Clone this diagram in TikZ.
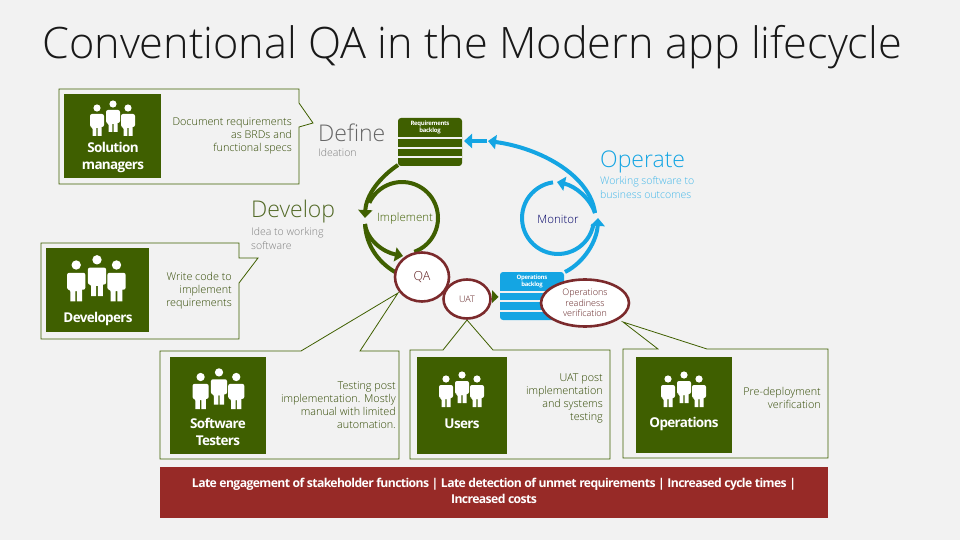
\documentclass[tikz,border=0pt]{standalone}
\usepackage{fontspec}
\setmainfont{Open Sans Light}[BoldFont=Open Sans Bold]
\newfontfamily\tightfont{Open Sans}[LetterSpace=-5]
\usetikzlibrary{arrows.meta,shapes.geometric}
\definecolor{pagegray}{HTML}{F2F2F2}
\definecolor{qagreen}{HTML}{3F5F00}
\definecolor{qablue}{HTML}{14A5E3}
\definecolor{qared}{HTML}{972A27}
\definecolor{qamaroon}{HTML}{7B2A2C}
\tikzset{
    panel/.style={draw=qagreen, line width=0.8pt, fill=pagegray, line join=miter},
    square/.style={fill=qagreen},
    rolename/.style={text=white, font=\tightfont\fontsize{13.5}{17}\selectfont\bfseries, align=center, inner sep=0pt},
    duty/.style={text=qagreen!75!black, font=\fontsize{10.8}{13}\selectfont, align=right, inner sep=0pt, anchor=east},
    phase/.style={font=\fontsize{23}{26}\selectfont, inner sep=0pt, anchor=west},
    phasenote/.style={font=\fontsize{10.5}{14.5}\selectfont, align=left, inner sep=0pt, anchor=north west},
    greenarc/.style={draw=qagreen, line width=4pt},
    bluearc/.style={draw=qablue, line width=4pt},
    greentip/.style={-{Triangle[width=14pt,length=8pt]}},
    check/.style={ellipse, draw=qamaroon, line width=2.6pt, fill=white, text=qamaroon!80!black, inner sep=0pt, align=center},
    backlogtext/.style={text=white, font=\tightfont\fontsize{6}{7}\selectfont\bfseries, align=center, inner sep=0pt},
    staff/.pic={
        \foreach \px/\py in {-16/0, 0/-4, 15/0} {
            \fill[white, shift={(\px,\py)}] (0,0) circle (3.6)
                (-7,6) [rounded corners=2] -- (-7,19) -- (-4.5,19) [sharp corners] -- (-4.5,28) -- (-0.6,28) -- (-0.6,20)
                -- (0.6,20) -- (0.6,28) -- (4.5,28) -- (4.5,19) [rounded corners=2] -- (7,19) -- (7,6) -- cycle;
        }
    },
}
\begin{document}
\begin{tikzpicture}[x=1pt, y=-1pt, >=stealth]
    \useasboundingbox[fill=pagegray] (0,0) rectangle (960,540);

    \node[anchor=base west, inner sep=0pt, text=black!90, font=\fontsize{43.3}{48}\selectfont] (title) at (42,59) {Conventional QA in the Modern app lifecycle};

    % where the callout tails point
    \coordinate (definetip) at (313,123);
    \coordinate (developtip) at (258,258);
    \coordinate (qatip) at (398,293);
    \coordinate (uattip) at (467,320);
    \coordinate (opstip) at (623,322);

    % callout panels
    \draw[panel] (59,89) -- (299,89) -- (299,103) -- (definetip) -- (299,127) -- (299,184) -- (59,184) -- cycle;
    \draw[panel] (41,243) -- (239,243) -- (239,258) -- (developtip) -- (239,283) -- (239,339) -- (41,339) -- cycle;
    \draw[panel] (160,351) -- (301,351) -- (qatip) -- (360,351) -- (399,351) -- (399,459) -- (160,459) -- cycle;
    \draw[panel] (410,350) -- (443,350) -- (uattip) -- (493,350) -- (610,350) -- (610,459) -- (410,459) -- cycle;
    \draw[panel] (623,349) -- (658,349) -- (opstip) -- (707,349) -- (828,349) -- (828,458) -- (623,458) -- cycle;

    % role squares
    \fill[square] (64,94) rectangle (161,178);
    \fill[square] (46,248) rectangle (149,332);
    \fill[square] (170,357) rectangle (266,454);
    \fill[square] (417,357) rectangle (507,454);
    \fill[square] (636,357) rectangle (732,453);

    \pic at (113,108) {staff};
    \pic[scale=1.3] at (97,265) {staff};
    \pic[scale=1.15] at (219,377) {staff};
    \pic at (462,379) {staff};
    \pic at (684,379) {staff};

    \node[rolename] (solution) at (113,157) {Solution\\managers};
    \node[rolename] (developers) at (98,319) {Developers};
    \node[rolename] (testers) at (218,432) {Software\\Testers};
    \node[rolename] (users) at (462,424) {Users};
    \node[rolename] (operations) at (684,424) {Operations};

    \node[duty] (dutydefine) at (292,136) {Document requirements\\as BRDs and\\functional specs};
    \node[duty] (dutydevelop) at (232,291) {Write code to\\implement\\requirements};
    \node[duty] (dutytest) at (396,405.5) {Testing post\\implementation. Mostly\\manual with limited\\automation.};
    \node[duty] (dutyuat) at (603,398.5) {UAT post\\implementation\\and systems\\testing};
    \node[duty] (dutyops) at (821,397.5) {Pre-deployment\\verification};

    % phase headings
    \node[phase, text=black!60] (define) at (318,133) {Define};
    \node[phasenote, text=black!50] (ideation) at (318,148) {Ideation};
    \node[phase, text=qagreen!70!gray] (develop) at (251,212) {Develop};
    \node[phasenote, text=black!50] (ideanote) at (251,227) {Idea to working\\software};
    \node[phase, text=qablue] (operate) at (600,162) {Operate};
    \node[phasenote, text=qablue!80!white] (opsnote) at (600,176) {Working software to\\business outcomes};

    % backlogs
    \node[fill=qagreen, rounded corners=3pt, minimum width=64pt, minimum height=48pt, inner sep=0pt] (reqbacklog) at (430,142) {};
    \node[fill=qablue, rounded corners=3pt, minimum width=64pt, minimum height=48pt, inner sep=0pt] (opsbacklog) at (532,296) {};
    \foreach \sy in {138,148,157} {
        \fill[pagegray] (398,\sy-0.7) rectangle (462,\sy+0.7);
    }
    \foreach \sy in {292,301,311} {
        \fill[pagegray] (500,\sy-0.7) rectangle (564,\sy+0.7);
    }
    \node[backlogtext] (reqlabel) at (430,127) {Requirements\\backlog};
    \node[backlogtext] (opslabel) at (532,281) {Operations\\backlog};

    \node[text=qagreen, inner sep=0pt, font=\fontsize{11.5}{13}\selectfont] (implement) at (405,218.5) {Implement};
    \node[text=blue!40!black, inner sep=0pt, font=\fontsize{11.5}{13}\selectfont] (monitor) at (558,219) {Monitor};

    % green loop
    \coordinate (greenmid) at (365,218);
    \coordinate (greenrestart) at (365,224);
    \draw[greenarc, greentip] (398,165) .. controls (380,177) and (366,195) .. (greenmid);
    \draw[greenarc] (greenrestart) .. controls (366,245) and (378,262) .. (395,272);
    \draw[greenarc, greentip] (greenrestart) .. controls (367,240) and (383,252) .. (403,256);
    \draw[greenarc] plot[domain=205:430, samples=40, variable=\t]
        ({402+36*cos(\t)}, {218+36*sin(\t)});

    % blue loop
    \coordinate (bluemid) at (598,218);
    \coordinate (bluerestart) at (595,213);
    \coordinate (bluetop) at (488,141);
    \draw[bluearc, greentip] (565,272) .. controls (585,262) and (597,240) .. (bluemid);
    \draw[bluearc, greentip] (bluerestart) .. controls (590,175) and (540,148) .. (bluetop);
    \draw[bluearc, greentip] (487,141) -- (464,141);
    \draw[bluearc, greentip] (bluerestart) .. controls (590,198) and (575,186) .. (557,182);
    \draw[bluearc] plot[domain=262:10, samples=40, variable=\t]
        ({558+36*cos(\t)}, {218+36*sin(\t)});

    % checks
    \fill[qagreen] (492,290) -- (498.5,297) -- (492,303) -- cycle;
    \node[check, minimum width=54pt, minimum height=49pt, font=\fontsize{12.5}{14}\selectfont] (qa) at (422,277) {QA};
    \node[check, minimum width=47pt, minimum height=39pt, font=\fontsize{9}{11}\selectfont] (uat) at (467,299) {UAT};
    \node[check, minimum width=88pt, minimum height=47pt, font=\fontsize{9}{10.5}\selectfont] (opscheck) at (585,303) {Operations\\readiness\\verification};

    % outcome bar
    \fill[qared] (160,467) rectangle (828,518);
    \node[text=white, inner sep=0pt, align=center, font=\tightfont\fontsize{12.2}{16}\selectfont\bfseries] (outcome) at (494,491) {Late engagement of stakeholder functions | Late detection of unmet requirements | Increased cycle times |\\Increased costs};
\end{tikzpicture}
\end{document}
